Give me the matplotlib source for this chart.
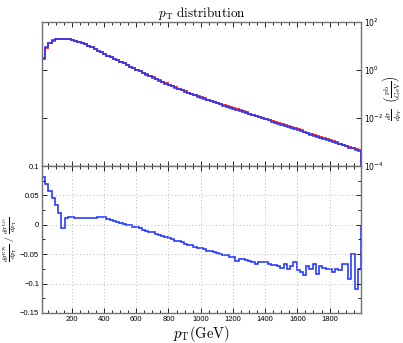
import matplotlib.pyplot as plt
import numpy as np
from matplotlib.ticker import MultipleLocator, NullLocator

plt.rcParams['mathtext.fontset'] = 'cm'
plt.rcParams['font.family'] = ['Liberation Sans', 'DejaVu Sans']

# binning of the histograms (GeV)
bin_start = 15
bin_width = 20

# log10 of LO d(sigma)/dpT in pb/GeV, one value per bin
lo_log10 = [
    0.446, 0.93, 1.105, 1.22, 1.28, 1.30, 1.31, 1.30, 1.28, 1.25,
    1.21, 1.17, 1.12, 1.07, 1.01, 0.94, 0.87, 0.80, 0.73, 0.66,
    0.595, 0.53, 0.465, 0.40, 0.335, 0.27, 0.205, 0.14, 0.075, 0.01,
    -0.055, -0.12, -0.185, -0.25, -0.313, -0.375, -0.436, -0.496, -0.555, -0.613,
    -0.670, -0.726, -0.781, -0.835, -0.888, -0.940, -0.991, -1.041, -1.090, -1.138,
    -1.185, -1.232, -1.278, -1.324, -1.370, -1.415, -1.460, -1.505, -1.550, -1.594,
    -1.638, -1.682, -1.726, -1.770, -1.814, -1.858, -1.901, -1.944, -1.987, -2.030,
    -2.073, -2.116, -2.159, -2.202, -2.245, -2.290, -2.336, -2.381, -2.427, -2.472,
    -2.518, -2.563, -2.609, -2.654, -2.700, -2.745, -2.791, -2.836, -2.882, -2.927,
    -2.973, -3.018, -3.064, -3.109, -3.155, -3.200, -3.246, -3.291, -3.337,
]

# relative EW correction per bin
ew_ratio = [
    0.082, 0.070, 0.058, 0.046, 0.034, 0.020, -0.006, 0.012, 0.014, 0.013,
    0.012, 0.012, 0.011, 0.011, 0.011, 0.012, 0.012, 0.013, 0.014, 0.013,
    0.010, 0.008, 0.006, 0.004, 0.003, 0.002, 0.000, -0.001, -0.003, -0.004,
    -0.006, -0.008, -0.010, -0.012, -0.013, -0.015, -0.017, -0.019, -0.021, -0.023,
    -0.025, -0.027, -0.028, -0.030, -0.032, -0.034, -0.035, -0.037, -0.039, -0.040,
    -0.042, -0.044, -0.045, -0.047, -0.048, -0.050, -0.051, -0.052, -0.054, -0.055,
    -0.061, -0.058, -0.059, -0.060, -0.062, -0.064, -0.066, -0.063, -0.064, -0.064,
    -0.067, -0.069, -0.069, -0.070, -0.073, -0.066, -0.076, -0.070, -0.064, -0.077,
    -0.080, -0.086, -0.070, -0.076, -0.067, -0.083, -0.070, -0.073, -0.075, -0.075,
    -0.080, -0.075, -0.077, -0.066, -0.067, -0.092, -0.050, -0.109, -0.075,
]

ratio_ticks = [-0.15, -0.1, -0.05, 0, 0.05, 0.1]
ratio_ticklabels = ['\u22120.15', '\u22120.1', '\u22120.05', '0', '0.05', '0.1']
xs_ticks = [1e-4, 1e-2, 1, 1e2]
xs_ticklabels = ['$10^{-4}$', '$10^{-2}$', '$10^{0}$', '$10^{2}$']

edges = bin_start + bin_width * np.arange(len(ew_ratio) + 1)
lo = 10 ** np.array(lo_log10)
ew = lo * (1 + np.array(ew_ratio))

blue = '#2a3cff'
spine_col = '#707070'

fig = plt.figure(figsize=(4.03, 3.43), dpi=100)
ax1 = fig.add_axes([0.1042, 0.516, 0.7916, 0.42])
ax2 = fig.add_axes([0.1042, 0.0875, 0.7916, 0.4285])

ax1.stairs(lo, edges, color='red', lw=1.2)
ax1.stairs(ew, edges, color=blue, lw=1.2)
ax1.set_yscale('log')
ax1.set_ylim(1e-4, 1e2)
ax1.set_yticks(xs_ticks)
ax1.set_yticklabels(xs_ticklabels, math_fontfamily='dejavusans', fontsize=5)
ax1.yaxis.set_minor_locator(NullLocator())
ax1.set_title(r'$p_\mathrm{T}\ \mathrm{distribution}$', fontsize=9.5, pad=3)
ax1.yaxis.set_label_position('right')
ax1.set_ylabel(r'$\frac{d\sigma}{dp_T}\ \ \left(\frac{\mathrm{pb}}{\mathrm{GeV}}\right)$',
               fontsize=7.5)
ax1.yaxis.set_label_coords(1.062, 0.47)

ax2.stairs(ew_ratio, edges, color=blue, lw=1.2)
ax2.set_ylim(-0.15, 0.1)
ax2.set_yticks(ratio_ticks)
ax2.set_yticklabels(ratio_ticklabels, fontsize=5.2)
ax2.yaxis.set_minor_locator(MultipleLocator(0.025))
ax2.grid(True, which='major', linestyle=(0, (1, 2.5)), color='#b8b8b8', lw=0.7)
ax2.set_xlabel(r'$p_\mathrm{T}(\mathrm{GeV})$', fontsize=10.5, labelpad=1)
ax2.set_ylabel(r'$\frac{d\sigma^\mathrm{EW}}{dp_\mathrm{T}}\ /\ \frac{d\sigma^\mathrm{LO}}{dp_\mathrm{T}}$',
               fontsize=7)
ax2.yaxis.set_label_coords(-0.072, 0.5)

for ax in (ax1, ax2):
    ax.set_xlim(15, 1995)
    ax.set_xticks(range(200, 1801, 200))
    ax.xaxis.set_minor_locator(MultipleLocator(50))
    ax.tick_params(which='both', direction='in', top=True, right=True,
                   labelsize=5.5, width=0.6, pad=2)
    ax.tick_params(which='major', length=3.5)
    ax.tick_params(which='minor', length=2)
    for s in ax.spines.values():
        s.set_color(spine_col)
        s.set_linewidth(1.0)

ax1.tick_params(axis='y', labelleft=False, labelright=True)
ax1.tick_params(axis='x', labelbottom=False)

fig.savefig('out.png', dpi=100)
